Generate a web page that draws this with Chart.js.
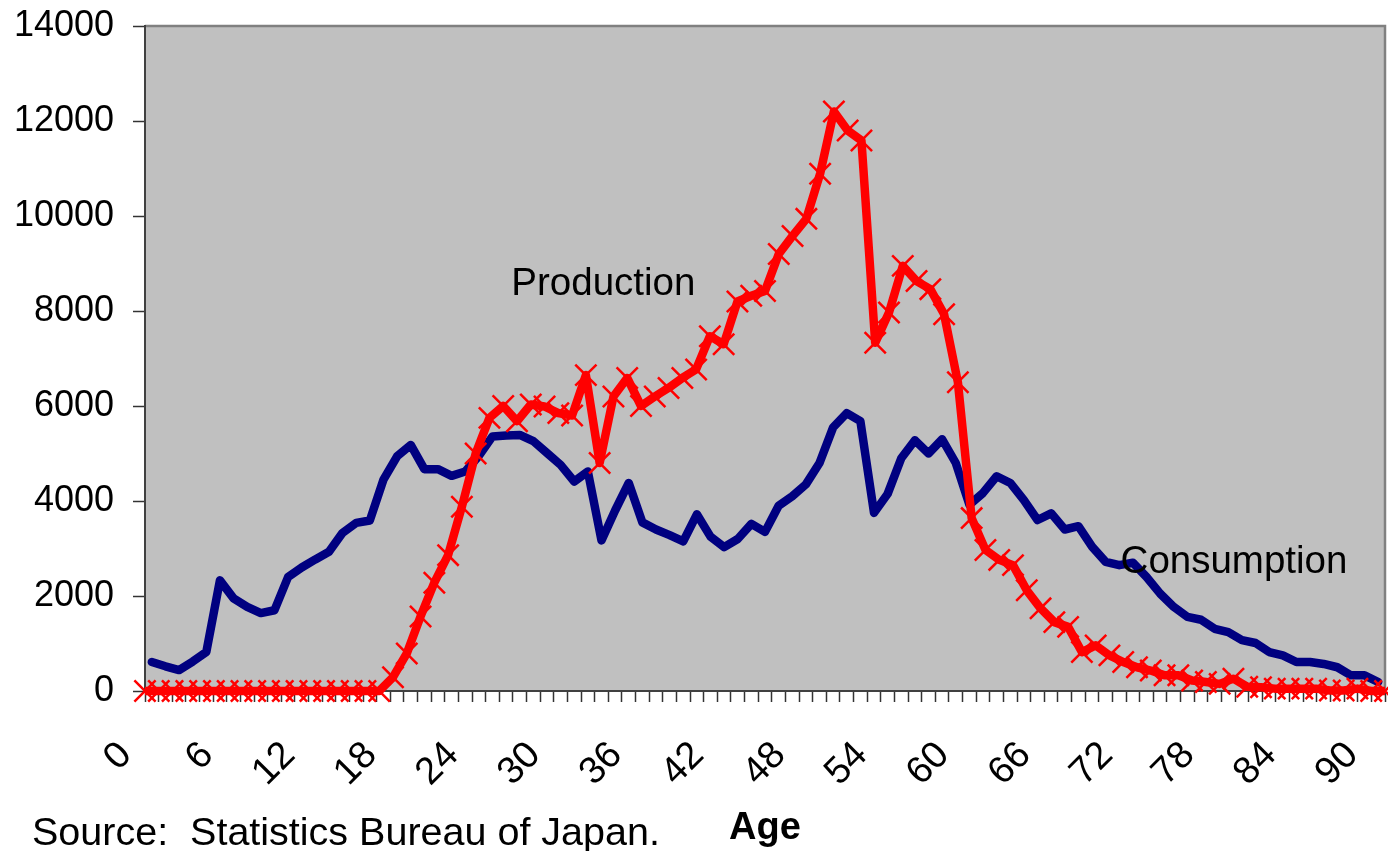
<!DOCTYPE html>
<html>
<head>
<meta charset="utf-8">
<script src="https://cdn.jsdelivr.net/npm/chart.js@4.4.1/dist/chart.umd.min.js"></script>
<style>
  html, body { margin: 0; padding: 0; background: #fff; }
  #wrap { position: relative; width: 1388px; height: 851px; }
</style>
</head>
<body>
<div id="wrap"><canvas id="chart"></canvas></div>
<script>
// ages 0..90
const ages = [
  0, 1, 2, 3, 4, 5, 6, 7, 8, 9, 10, 11, 12, 13, 14, 15, 16, 17, 18, 19,
  20, 21, 22, 23, 24, 25, 26, 27, 28, 29, 30, 31, 32, 33, 34, 35, 36, 37, 38, 39,
  40, 41, 42, 43, 44, 45, 46, 47, 48, 49, 50, 51, 52, 53, 54, 55, 56, 57, 58, 59,
  60, 61, 62, 63, 64, 65, 66, 67, 68, 69, 70, 71, 72, 73, 74, 75, 76, 77, 78, 79,
  80, 81, 82, 83, 84, 85, 86, 87, 88, 89, 90
];

const consumption = [
  610, 520, 440, 620, 820, 2330, 1950, 1770, 1640, 1700,
  2400, 2600, 2770, 2930, 3330, 3540, 3590, 4450, 4940, 5180,
  4670, 4670, 4530, 4620, 4950, 5360, 5380, 5390, 5260, 5010,
  4760, 4410, 4620, 3170, 3800, 4380, 3550, 3400, 3280, 3150,
  3720, 3250, 3030, 3200, 3520, 3350, 3900, 4100, 4350, 4800,
  5550, 5850, 5680, 3750, 4150, 4900, 5280, 5000, 5300, 4800,
  3920, 4170, 4520, 4380, 4020, 3600, 3740, 3400, 3470, 3040,
  2720, 2650, 2700, 2400, 2050, 1770, 1560, 1500, 1310, 1240,
  1070, 1010, 820, 750, 610, 610, 570, 500, 330, 330,
  190
];

const production = [
  0, 0, 0, 0, 0, 0, 0, 0, 0, 0,
  0, 0, 0, 0, 0, 0, 0, 0, 290, 790,
  1570, 2280, 2860, 3880, 5000, 5750, 6000, 5680, 6030, 5990,
  5850, 5800, 6650, 4800, 6200, 6590, 6000, 6200, 6380, 6590,
  6770, 7470, 7300, 8200, 8320, 8420, 9200, 9580, 9940, 10890,
  12200, 11800, 11590, 7330, 7970, 8950, 8630, 8460, 7930, 6500,
  3640, 2970, 2760, 2650, 2120, 1740, 1450, 1350, 820, 960,
  750, 610, 500, 430, 330, 330, 220, 190, 150, 260,
  90, 80, 50, 50, 50, 50, 10, 10, 50, 0,
  0
];

const yMax = 14000;
const yStep = 2000;
const ageLabelStep = 6;

// in-plot labels, placed in data units (age index, value)
const notes = [
  { text: 'Production', age: 33.27, value: 8340 },
  { text: 'Consumption', age: 79.04, value: 2490 }
];
const sourceText = 'Source:  Statistics Bureau of Japan.';

const FONT = '"Liberation Sans", Arial, sans-serif';
Chart.defaults.font.family = FONT;
Chart.defaults.color = '#000';

const noPadding = s => {
  s.paddingLeft = 0;
  s.paddingRight = 0;
  s.paddingTop = 0;
  s.paddingBottom = 0;
};

const plotBackground = {
  id: 'plotBackground',
  beforeDraw(chart) {
    const { ctx, chartArea: a } = chart;
    ctx.save();
    ctx.fillStyle = '#c0c0c0';
    ctx.fillRect(a.left, a.top, a.right - a.left, a.bottom - a.top);
    ctx.strokeStyle = '#808080';
    ctx.lineWidth = 2.5;
    ctx.beginPath();
    ctx.moveTo(a.left, a.top);
    ctx.lineTo(a.right, a.top);
    ctx.lineTo(a.right, a.bottom);
    ctx.stroke();
    ctx.restore();
  }
};

const textNotes = {
  id: 'textNotes',
  afterDatasetsDraw(chart) {
    const { ctx, scales } = chart;
    ctx.save();
    ctx.fillStyle = '#000';
    ctx.font = '38.5px ' + FONT;
    ctx.textBaseline = 'alphabetic';
    ctx.textAlign = 'center';
    notes.forEach(n => {
      ctx.fillText(n.text, scales.x2.getPixelForValue(n.age), scales.y.getPixelForValue(n.value));
    });
    ctx.font = '39.5px ' + FONT;
    ctx.textAlign = 'left';
    ctx.fillText(sourceText, 32, 845);
    ctx.restore();
  }
};

const ctx = document.getElementById('chart').getContext('2d');
new Chart(ctx, {
  type: 'line',
  data: {
    datasets: [
      {
        label: 'Production',
        data: production,
        xAxisID: 'x2',
        borderColor: '#ff0000',
        borderWidth: 8.5,
        tension: 0,
        borderJoinStyle: 'round',
        pointStyle: 'crossRot',
        pointRadius: 15,
        pointBorderWidth: 2.5,
        pointBorderColor: '#ff0000',
        pointBackgroundColor: '#ff0000',
        clip: false,
        order: 0
      },
      {
        label: 'Consumption',
        data: consumption,
        xAxisID: 'x',
        borderColor: '#000080',
        borderWidth: 8.5,
        tension: 0,
        borderJoinStyle: 'round',
        borderCapStyle: 'round',
        pointRadius: 0,
        clip: false,
        order: 1
      }
    ]
  },
  options: {
    responsive: true,
    maintainAspectRatio: false,
    animation: false,
    layout: { autoPadding: false, padding: { top: 26, right: 3, left: 0, bottom: 0 } },
    plugins: {
      legend: { display: false },
      tooltip: { enabled: false }
    },
    scales: {
      x: {
        type: 'category',
        labels: ages,
        offset: true,
        grid: {
          offset: true,
          drawOnChartArea: false,
          tickLength: 11,
          tickColor: '#333',
          tickWidth: 1.5
        },
        border: { color: '#404040', width: 2 },
        ticks: {
          autoSkip: false,
          minRotation: 45,
          maxRotation: 45,
          padding: 31,
          labelOffset: -26,
          font: { size: 38 },
          callback: function (value, index) {
            return index % ageLabelStep === 0 ? this.getLabelForValue(value) : '';
          }
        },
        title: {
          display: true,
          text: 'Age',
          font: { size: 38, weight: 'bold' },
          padding: { top: 0, bottom: 0 }
        },
        afterFit: s => {
          s.height = 160;
          noPadding(s);
        }
      },
      x2: {
        type: 'category',
        labels: ages,
        offset: false,
        display: false,
        ticks: { display: false },
        afterFit: noPadding
      },
      y: {
        min: 0,
        max: yMax,
        grid: {
          drawOnChartArea: false,
          tickLength: 12,
          tickColor: '#333',
          tickWidth: 1.5
        },
        border: { color: '#404040', width: 2 },
        ticks: {
          stepSize: yStep,
          padding: 19,
          font: { size: 36 },
          callback: v => String(v)
        },
        afterFit: s => {
          s.width = 145;
          noPadding(s);
        }
      }
    }
  },
  plugins: [plotBackground, textNotes]
});
</script>
</body>
</html>
